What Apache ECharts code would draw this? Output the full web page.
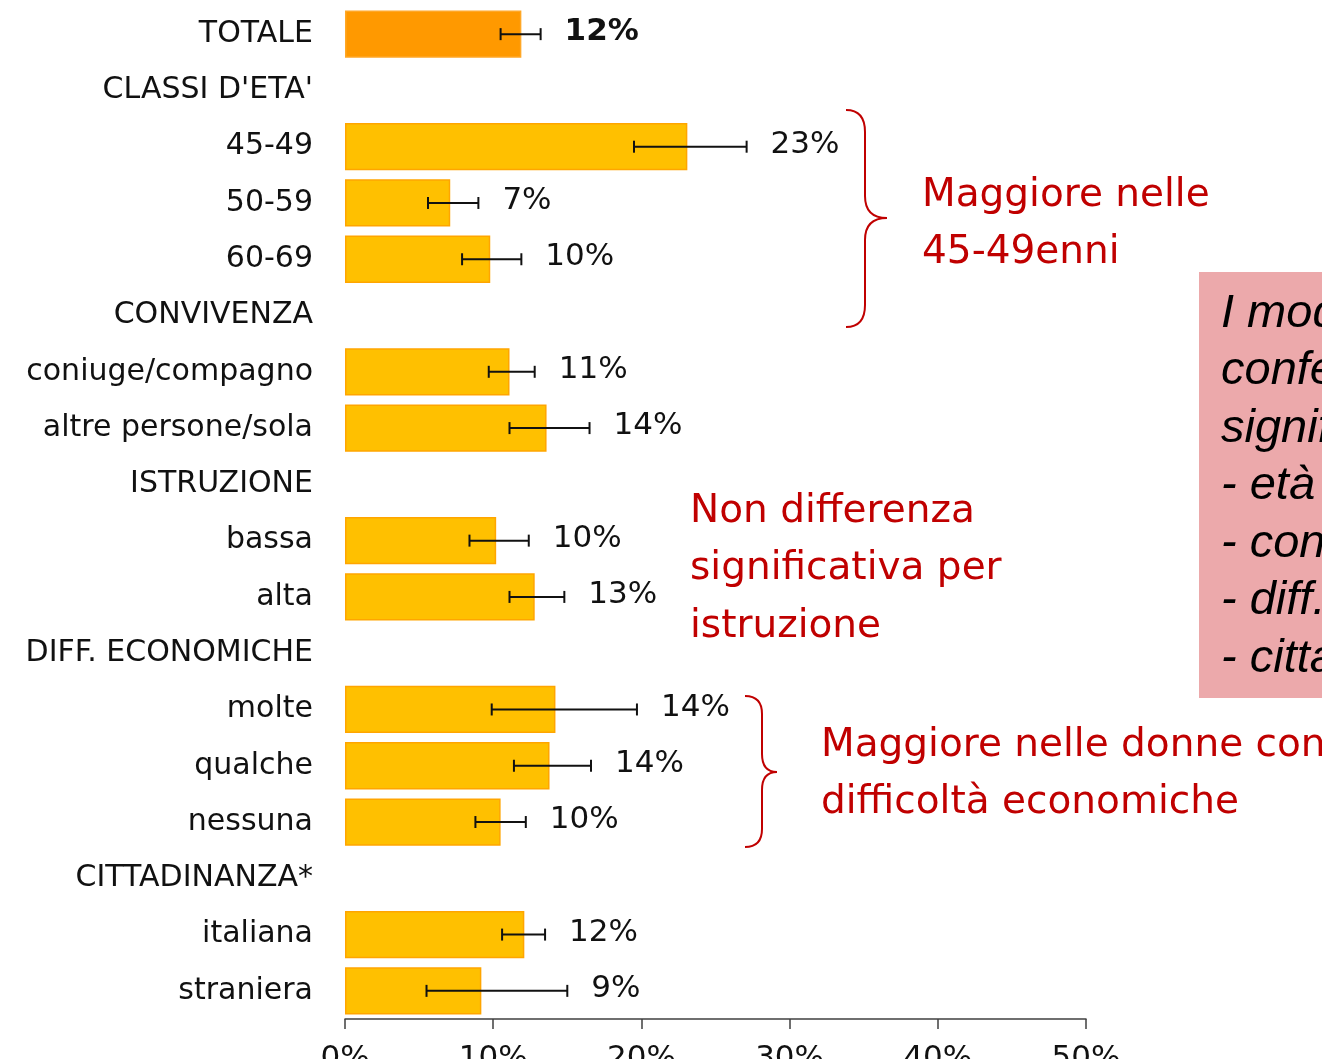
<!DOCTYPE html>
<html><head><meta charset="utf-8">
<script src="https://cdn.jsdelivr.net/npm/echarts@6/dist/echarts.min.js"></script>
<style>html,body{margin:0;padding:0;background:#fff;overflow:hidden}#c{width:1322px;height:1059px}</style>
</head><body><div id="c"></div>
<script>
const categories = ["TOTALE","CLASSI D'ETA'","45-49","50-59","60-69","CONVIVENZA","coniuge/compagno","altre persone/sola","ISTRUZIONE","bassa","alta","DIFF. ECONOMICHE","molte","qualche","nessuna","CITTADINANZA*","italiana","straniera"];
const values   = [11.9, null, 23.1, 7.1, 9.8, null, 11.1, 13.6, null, 10.2, 12.8, null, 14.2, 13.8, 10.5, null, 12.1, 9.2];
const errLow   = [10.5, null, 19.5, 5.6, 7.9, null, 9.7, 11.1, null, 8.4, 11.1, null, 9.9, 11.4, 8.8, null, 10.6, 5.5];
const errHigh  = [13.2, null, 27.1, 9.0, 11.9, null, 12.8, 16.5, null, 12.4, 14.8, null, 19.7, 16.6, 12.2, null, 13.5, 15.0];
const valueLabels = ["12%","","23%","7%","10%","","11%","14%","","10%","13%","","14%","14%","10%","","12%","9%"];
const xTicks = [0, 10, 20, 30, 40, 50];

const FONT = 'DejaVu Sans';
const RED = '#C00000';
const chart = echarts.init(document.getElementById('c'));

const barData = values.map((v, i) => v === null ? '-' : {
  value: v,
  itemStyle: i === 0 ? {color: '#FF9900', borderColor: '#FFA726'} : {}
});
const errData = [];
categories.forEach((c, i) => { if (errLow[i] !== null) errData.push([errLow[i], errHigh[i], i]); });

// curly brace made of lines and quadratic curves
function brace(xL, xM, xT, yTop, yTip, yBot, r) {
  const st = {fill: 'none', stroke: RED, lineWidth: 2};
  return [
    {type: 'bezierCurve', shape: {x1: xL, y1: yTop, cpx1: xM, cpy1: yTop, x2: xM, y2: yTop + r}, style: st},
    {type: 'line', shape: {x1: xM, y1: yTop + r, x2: xM, y2: yTip - r}, style: st},
    {type: 'bezierCurve', shape: {x1: xM, y1: yTip - r, cpx1: xM, cpy1: yTip, x2: xT, y2: yTip}, style: st},
    {type: 'bezierCurve', shape: {x1: xT, y1: yTip, cpx1: xM, cpy1: yTip, x2: xM, y2: yTip + r}, style: st},
    {type: 'line', shape: {x1: xM, y1: yTip + r, x2: xM, y2: yBot - r}, style: st},
    {type: 'bezierCurve', shape: {x1: xM, y1: yBot - r, cpx1: xM, cpy1: yBot, x2: xL, y2: yBot}, style: st}
  ];
}

chart.setOption({
  animation: false,
  grid: {left: 345, right: 236, top: 6, bottom: 40, containLabel: false, outerBoundsMode: 'none'},
  xAxis: {
    type: 'value', min: 0, max: 50, interval: 10,
    axisLine: {show: true, lineStyle: {color: '#404040', width: 1.5}},
    axisTick: {show: true, length: 10, lineStyle: {color: '#404040', width: 1.5}},
    splitLine: {show: false},
    axisLabel: {formatter: v => v + '%', fontFamily: FONT, fontSize: 31, color: '#111', margin: 24}
  },
  yAxis: {
    type: 'category', data: categories, inverse: true,
    axisLine: {show: false}, axisTick: {show: false},
    axisLabel: {fontFamily: FONT, fontSize: 30, color: '#111', margin: 32}
  },
  series: [{
    type: 'bar', data: barData, barCategoryGap: '16%',
    itemStyle: {color: '#FFC000', borderColor: '#FFA500', borderWidth: 1.5}
  }, {
    type: 'custom', data: errData, encode: {x: [0, 1], y: 2}, z: 5,
    renderItem: (params, api) => {
      const i = api.value(2);
      const p0 = api.coord([api.value(0), i]);
      const p1 = api.coord([api.value(1), i]);
      const h = 6;
      const st = {stroke: '#111', lineWidth: 2};
      return {type: 'group', children: [
        {type: 'line', shape: {x1: p0[0], y1: p0[1], x2: p1[0], y2: p1[1]}, style: st},
        {type: 'line', shape: {x1: p0[0], y1: p0[1]-h, x2: p0[0], y2: p0[1]+h}, style: st},
        {type: 'line', shape: {x1: p1[0], y1: p1[1]-h, x2: p1[0], y2: p1[1]+h}, style: st},
        {type: 'text', style: {text: valueLabels[i], x: p1[0] + 24, y: p1[1] - 2, verticalAlign: 'middle', align: 'left',
          fontFamily: FONT, fontSize: 31, fontWeight: i === 0 ? 'bold' : 'normal', fill: '#111'}}
      ]};
    }
  }],
  graphic: [].concat(
    brace(846, 865, 887, 110, 218, 327, 22),
    brace(745, 762, 777, 696, 772, 847, 18),
    [
      {type: 'text', x: 922, y: 167, style: {text: 'Maggiore nelle\n45-49enni', fontFamily: FONT, fontSize: 39, lineHeight: 57, fill: RED}},
      {type: 'text', x: 690, y: 483, style: {text: 'Non differenza\nsignificativa per\nistruzione', fontFamily: FONT, fontSize: 39, lineHeight: 57.5, fill: RED}},
      {type: 'text', x: 821, y: 717, style: {text: 'Maggiore nelle donne con\ndifficoltà economiche', fontFamily: FONT, fontSize: 39, lineHeight: 57, fill: RED}},
      {type: 'rect', shape: {x: 1199, y: 272, width: 200, height: 426}, style: {fill: '#ECA9AB'}},
      {type: 'text', x: 1221, y: 285, style: {text: 'I modelli confermano\nconferma differenze\nsignificative per:\n- età\n- convivenza\n- diff. economiche\n- cittadinanza',
        fontFamily: 'Liberation Sans', fontStyle: 'italic', fontSize: 47, lineHeight: 57.5, fill: '#000'}}
    ]
  )
});
</script></body></html>
